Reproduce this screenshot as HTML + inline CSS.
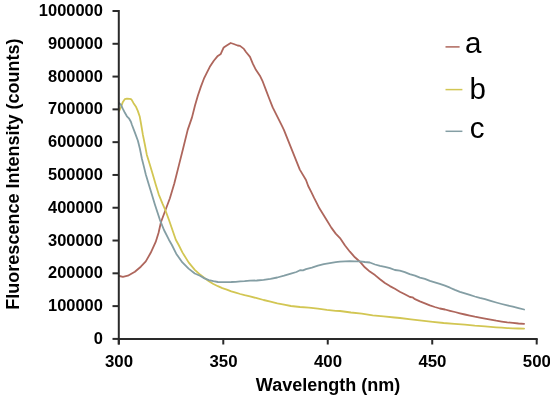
<!DOCTYPE html>
<html><head><meta charset="utf-8"><style>
html,body{margin:0;padding:0;background:#fff;width:550px;height:403px;overflow:hidden}
svg{display:block;will-change:transform}
.tk{font-family:"Liberation Sans",sans-serif;font-weight:bold;font-size:16.2px;fill:#000}
.tky{font-family:"Liberation Sans",sans-serif;font-weight:bold;font-size:15.9px;fill:#000}
.ti{font-family:"Liberation Sans",sans-serif;font-weight:bold;font-size:18px;fill:#000}
.lg{font-family:"Liberation Sans",sans-serif;font-size:29.5px;fill:#000}
</style></head><body>
<svg width="550" height="403" viewBox="0 0 550 403">
<polyline points="119.4,276.0 122.9,276.8 127.9,275.7 134.9,271.7 140.8,266.7 145.8,261.4 150.7,252.8 155.7,241.9 158.5,233.0 161.0,222.0 165.4,210.2 169.9,198.3 174.3,183.5 178.8,165.6 183.3,147.7 187.7,129.9 192.0,117.4 195.0,105.5 197.9,95.5 200.9,86.6 203.9,78.7 206.9,72.7 209.8,66.8 213.8,60.8 217.8,55.9 220.8,53.9 222.1,50.9 223.7,47.5 226.7,45.5 230.7,43.0 233.7,44.0 237.6,45.5 240.0,45.9 243.9,48.9 246.0,52.0 250.0,56.9 252.9,63.9 255.9,69.8 259.9,75.7 262.8,81.7 265.8,89.6 268.8,97.5 272.7,107.4 276.7,115.3 281.6,125.2 283.9,129.9 291.8,149.7 299.8,169.6 306.0,180.0 308.2,186.0 311.2,191.9 314.1,197.9 316.4,202.3 319.4,208.3 323.1,214.2 326.8,220.2 331.3,227.6 335.7,233.6 340.0,238.1 345.0,245.5 349.9,251.7 354.9,257.3 359.9,261.7 364.8,267.3 369.8,271.6 375.0,275.1 380.0,279.2 384.9,283.0 389.9,286.1 394.9,288.8 399.8,291.7 404.8,294.2 410.0,297.0 412.5,297.3 415.0,299.2 419.9,301.3 424.9,303.3 429.9,305.4 434.8,307.0 439.8,308.5 445.0,309.5 450.0,310.8 454.9,312.0 459.9,313.3 464.9,314.5 469.8,315.6 474.8,316.7 479.7,317.6 485.0,318.6 490.6,319.6 496.2,320.7 501.7,321.6 507.3,322.4 512.9,322.9 518.5,323.5 524.1,323.8" fill="none" stroke="#ae665c" stroke-width="1.8" stroke-linejoin="round" stroke-linecap="round"/>
<polyline points="119.2,110.9 121.0,106.9 122.9,101.9 124.9,99.1 126.9,98.7 129.9,98.9 131.4,99.4 133.4,102.9 135.8,106.4 137.8,110.9 139.8,116.8 140.9,123.0 142.9,134.9 144.9,144.8 146.8,154.7 149.8,164.6 152.8,174.5 155.7,184.4 158.7,194.3 162.7,204.2 165.4,210.2 168.9,219.8 175.8,239.7 178.7,245.0 182.4,252.4 188.6,262.4 194.8,269.8 200.0,274.6 204.5,277.9 208.9,281.2 213.4,284.0 217.9,286.2 222.3,288.1 226.8,289.6 231.3,291.3 235.7,292.6 240.2,294.0 244.6,295.2 250.0,296.3 256.8,298.2 263.6,300.0 270.5,301.6 277.3,303.4 284.1,304.7 290.9,306.0 300.0,307.0 308.9,307.6 317.9,308.6 326.8,309.8 335.7,310.8 340.0,311.0 350.9,312.5 361.8,313.6 372.7,315.3 383.6,316.4 394.5,317.5 400.0,318.0 410.9,319.4 421.8,320.6 432.7,321.9 443.6,323.0 454.5,323.8 464.9,324.7 474.8,325.7 485.0,326.3 490.6,326.8 496.2,327.3 501.7,327.7 507.3,328.1 512.9,328.3 518.5,328.5 524.1,328.6" fill="none" stroke="#d2c653" stroke-width="1.8" stroke-linejoin="round" stroke-linecap="round"/>
<polyline points="119.0,103.0 121.0,104.9 122.9,108.9 124.9,112.8 126.9,116.3 128.9,118.3 130.9,121.8 132.0,125.0 135.0,132.9 137.9,140.8 139.9,148.8 141.9,158.7 143.9,166.6 145.8,174.5 148.8,184.4 151.8,194.3 154.8,204.2 159.9,219.8 164.0,230.0 168.9,239.7 171.9,245.0 176.2,253.7 182.4,262.4 188.6,268.6 194.8,273.5 200.0,275.8 204.5,278.4 208.9,280.1 213.4,281.2 217.9,282.0 222.3,282.1 226.8,282.1 231.3,282.0 235.7,281.8 240.2,281.4 244.6,281.2 250.0,280.6 256.8,280.5 263.6,279.8 270.5,278.8 277.3,277.5 284.1,275.7 290.9,273.6 296.4,272.0 300.0,270.2 303.0,270.4 306.0,269.1 311.9,267.7 317.9,265.7 323.8,264.2 329.8,263.2 335.7,262.1 340.0,261.7 345.0,261.3 349.9,261.1 354.9,261.3 359.9,261.3 364.8,262.0 369.8,262.5 375.0,264.5 380.0,265.8 384.9,266.9 389.9,268.1 394.9,270.0 399.8,270.6 404.8,272.2 409.7,274.2 415.0,275.6 419.9,277.7 424.9,278.9 429.9,280.9 434.8,282.4 439.8,283.9 445.0,285.7 450.0,287.7 454.9,289.9 459.9,291.8 464.9,293.4 469.8,294.9 474.8,296.5 479.7,297.9 485.0,299.2 490.6,300.9 496.2,302.5 501.7,304.0 507.3,305.4 512.9,306.7 518.5,308.1 524.1,309.5" fill="none" stroke="#849ea4" stroke-width="1.8" stroke-linejoin="round" stroke-linecap="round"/>
<line x1="118.8" y1="10.0" x2="118.8" y2="344.4" stroke="#2a2a2a" stroke-width="2"/>
<line x1="117.8" y1="338.9" x2="537.7" y2="338.9" stroke="#2a2a2a" stroke-width="2"/>
<line x1="112.5" y1="338.90" x2="118.8" y2="338.90" stroke="#2a2a2a" stroke-width="2"/>
<line x1="112.5" y1="306.11" x2="118.8" y2="306.11" stroke="#2a2a2a" stroke-width="2"/>
<line x1="112.5" y1="273.32" x2="118.8" y2="273.32" stroke="#2a2a2a" stroke-width="2"/>
<line x1="112.5" y1="240.53" x2="118.8" y2="240.53" stroke="#2a2a2a" stroke-width="2"/>
<line x1="112.5" y1="207.74" x2="118.8" y2="207.74" stroke="#2a2a2a" stroke-width="2"/>
<line x1="112.5" y1="174.95" x2="118.8" y2="174.95" stroke="#2a2a2a" stroke-width="2"/>
<line x1="112.5" y1="142.16" x2="118.8" y2="142.16" stroke="#2a2a2a" stroke-width="2"/>
<line x1="112.5" y1="109.37" x2="118.8" y2="109.37" stroke="#2a2a2a" stroke-width="2"/>
<line x1="112.5" y1="76.58" x2="118.8" y2="76.58" stroke="#2a2a2a" stroke-width="2"/>
<line x1="112.5" y1="43.79" x2="118.8" y2="43.79" stroke="#2a2a2a" stroke-width="2"/>
<line x1="112.5" y1="11.00" x2="118.8" y2="11.00" stroke="#2a2a2a" stroke-width="2"/>
<line x1="118.80" y1="338.9" x2="118.80" y2="344.5" stroke="#2a2a2a" stroke-width="2"/>
<line x1="223.28" y1="338.9" x2="223.28" y2="344.5" stroke="#2a2a2a" stroke-width="2"/>
<line x1="327.75" y1="338.9" x2="327.75" y2="344.5" stroke="#2a2a2a" stroke-width="2"/>
<line x1="432.23" y1="338.9" x2="432.23" y2="344.5" stroke="#2a2a2a" stroke-width="2"/>
<line x1="536.70" y1="338.9" x2="536.70" y2="344.5" stroke="#2a2a2a" stroke-width="2"/>
<text transform="translate(102.9,343.90) scale(1.035,1)" text-anchor="end" class="tky">0</text>
<text transform="translate(102.9,311.11) scale(1.035,1)" text-anchor="end" class="tky">100000</text>
<text transform="translate(102.9,278.32) scale(1.035,1)" text-anchor="end" class="tky">200000</text>
<text transform="translate(102.9,245.53) scale(1.035,1)" text-anchor="end" class="tky">300000</text>
<text transform="translate(102.9,212.74) scale(1.035,1)" text-anchor="end" class="tky">400000</text>
<text transform="translate(102.9,179.95) scale(1.035,1)" text-anchor="end" class="tky">500000</text>
<text transform="translate(102.9,147.16) scale(1.035,1)" text-anchor="end" class="tky">600000</text>
<text transform="translate(102.9,114.37) scale(1.035,1)" text-anchor="end" class="tky">700000</text>
<text transform="translate(102.9,81.58) scale(1.035,1)" text-anchor="end" class="tky">800000</text>
<text transform="translate(102.9,48.79) scale(1.035,1)" text-anchor="end" class="tky">900000</text>
<text transform="translate(102.9,16.00) scale(1.035,1)" text-anchor="end" class="tky">1000000</text>
<text transform="translate(119.00,367.4) scale(1.04,1)" text-anchor="middle" class="tk">300</text>
<text transform="translate(223.47,367.4) scale(1.04,1)" text-anchor="middle" class="tk">350</text>
<text transform="translate(327.95,367.4) scale(1.04,1)" text-anchor="middle" class="tk">400</text>
<text transform="translate(432.43,367.4) scale(1.04,1)" text-anchor="middle" class="tk">450</text>
<text transform="translate(536.90,367.4) scale(1.04,1)" text-anchor="middle" class="tk">500</text>
<text x="328" y="391.4" text-anchor="middle" class="ti">Wavelength (nm)</text>
<text transform="translate(18.6,174.1) rotate(-90)" text-anchor="middle" class="ti">Fluorescence Intensity (counts)</text>
<line x1="445.5" y1="46.9" x2="459.6" y2="46.9" stroke="#ae665c" stroke-width="1.5"/>
<line x1="445.5" y1="89.6" x2="462.4" y2="89.6" stroke="#d2c653" stroke-width="1.5"/>
<line x1="445.5" y1="131.3" x2="462.4" y2="131.3" stroke="#849ea4" stroke-width="1.5"/>
<text x="465" y="52.6" class="lg">a</text>
<text x="469.5" y="98.8" class="lg">b</text>
<text x="469.8" y="137.9" class="lg">c</text>
</svg>
</body></html>
